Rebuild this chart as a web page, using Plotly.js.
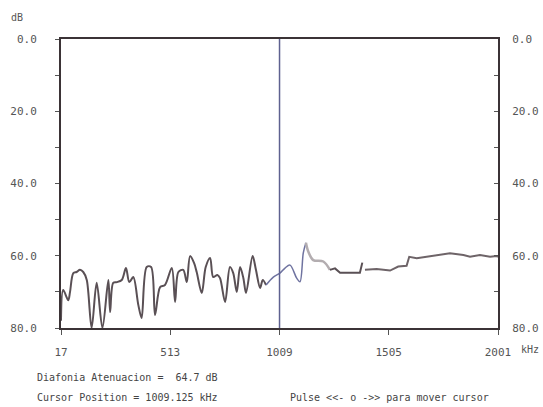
<!DOCTYPE html>
<html>
<head>
<meta charset="utf-8">
<script src="https://cdn.plot.ly/plotly-3.0.1.min.js"></script>
<style>html,body{margin:0;padding:0;background:#fff;}#chart{width:543px;height:407px;}</style>
</head>
<body>
<div id="chart"></div>
<script>
// Crosstalk attenuation (dB) vs frequency (kHz)
const freqA = [17, 27, 50, 58, 73, 88, 103, 118, 134, 156, 179, 205, 232, 240, 254, 270, 293, 312, 327, 345, 368, 383, 406, 426, 444, 467, 489, 520, 535, 550, 572, 588, 603, 621, 633, 656, 674, 694, 708, 727, 739, 762, 784, 799, 815, 830, 845, 857, 887, 902, 921, 933, 948];
const dbA   = [78, 69.5, 72.3, 70.0, 64.8, 64.5, 63.9, 64.5, 66.7, 80.0, 67.5, 80.0, 66.7, 75.6, 67.5, 67.3, 66.7, 63.4, 67.3, 65.9, 73.6, 77.2, 63.1, 63.1, 76.4, 68.7, 68.1, 63.4, 72.8, 64.5, 63.9, 67.3, 60.1, 62.0, 64.5, 70.3, 63.1, 60.6, 65.9, 65.3, 66.2, 72.8, 63.1, 64.8, 70.0, 63.1, 66.2, 70.3, 60.1, 63.9, 68.9, 66.7, 68.1];
const freqB = [948, 981, 1011, 1034, 1057, 1087, 1102, 1117, 1129];
const dbB   = [68.1, 65.9, 64.8, 63.4, 62.6, 66.2, 67.2, 59.2, 56.4];
const freqC = [1129, 1140, 1162, 1208, 1238];
const dbC   = [56.4, 58.9, 61.2, 61.6, 63.9];
const freqD = [1238, 1261, 1284, 1374, 1385];
const dbD   = [63.9, 63.5, 64.7, 64.7, 61.9];
const freqE = [1397, 1450, 1511, 1548, 1586, 1598, 1632, 1723, 1783, 1844, 1874, 1919, 1965, 1995, 2001];
const dbE   = [63.9, 63.7, 64.1, 63.0, 62.8, 60.3, 60.7, 59.8, 59.3, 59.8, 60.3, 59.8, 60.3, 60.1, 60.3];
const cursorFreq = [1009.125];
const attenuation = [64.7];
const xTicks = [17, 513, 1009, 1505, 2001];
const xTickText = ["17", "513", "1009", "1505", "2001"];
const yTicks = [0, 10, 20, 30, 40, 50, 60, 70, 80];
const yTickText = ["0.0", "", "20.0", "", "40.0", "", "60.0", "", "80.0"];

const dark = "#5a5055";
const mono = "DejaVu Sans Mono, Liberation Mono, monospace";
const sp = {shape: "spline", smoothing: 0.9};

const traces = [
  {x: freqA, y: dbA, mode: "lines", line: Object.assign({color: dark, width: 2}, sp), hoverinfo: "none"},
  {x: freqB, y: dbB, mode: "lines", line: Object.assign({color: "#6f73a0", width: 1.5}, sp), hoverinfo: "none"},
  {x: freqC, y: dbC, mode: "lines", line: Object.assign({color: "#b3adb0", width: 2.5}, sp), hoverinfo: "none"},
  {x: freqD, y: dbD, mode: "lines", line: {color: dark, width: 2}, hoverinfo: "none"},
  {x: freqE, y: dbE, mode: "lines", line: {color: "#6e6468", width: 2}, hoverinfo: "none"},
  {x: [cursorFreq[0], cursorFreq[0]], y: [0, 80], mode: "lines", line: {color: "#5e6190", width: 1.5}, hoverinfo: "none"},
  {x: [null], y: [null], yaxis: "y2", mode: "lines", showlegend: false, hoverinfo: "none"}
];

const layout = {
  width: 543, height: 407,
  margin: {l: 61, r: 45, t: 39, b: 79, pad: 0},
  paper_bgcolor: "#ffffff", plot_bgcolor: "#ffffff",
  showlegend: false,
  font: {family: mono, size: 11, color: "#555"},
  xaxis: {
    range: [17, 2001], tickvals: xTicks, ticktext: xTickText,
    showgrid: false, zeroline: false,
    showline: true, linecolor: "#3b3336", linewidth: 2, mirror: true,
    ticks: "outside", ticklen: 5, tickcolor: "#555", tickwidth: 1,
    ticklabelstandoff: 8,
    tickfont: {family: mono, size: 11, color: "#555"}
  },
  yaxis: {
    range: [80, 0], tickvals: yTicks, ticktext: yTickText,
    showgrid: false, zeroline: false,
    showline: true, linecolor: "#3b3336", linewidth: 2,
    ticks: "outside", ticklen: 4, tickcolor: "#555", tickwidth: 1,
    ticklabelstandoff: 16,
    tickfont: {family: mono, size: 11, color: "#555"}
  },
  yaxis2: {
    range: [80, 0], tickvals: yTicks, ticktext: yTickText,
    overlaying: "y", side: "right",
    showgrid: false, zeroline: false,
    showline: true, linecolor: "#3b3336", linewidth: 2,
    ticks: "inside", ticklen: 4, tickcolor: "#555", tickwidth: 1,
    ticklabelstandoff: 10,
    tickfont: {family: mono, size: 11, color: "#555"}
  },
  annotations: [
    {xref: "paper", yref: "paper", x: -0.1, y: 1.075, xanchor: "center", yanchor: "middle",
     text: "dB", showarrow: false, font: {family: mono, size: 10, color: "#555"}},
    {xref: "paper", yref: "paper", x: 1.048, y: -0.075, xanchor: "left", yanchor: "middle",
     text: "kHz", showarrow: false, font: {family: mono, size: 10, color: "#555"}},
    {xref: "paper", yref: "paper", x: -0.06, y: -0.17, xanchor: "left", yanchor: "middle",
     text: "Diafonia Atenuacion =  " + attenuation[0].toFixed(1) + " dB", showarrow: false,
     font: {family: mono, size: 10, color: "#444"}},
    {xref: "paper", yref: "paper", x: -0.06, y: -0.24, xanchor: "left", yanchor: "middle",
     text: "Cursor Position = " + cursorFreq[0].toFixed(3) + " kHz", showarrow: false,
     font: {family: mono, size: 10, color: "#444"}},
    {xref: "paper", yref: "paper", x: 0.52, y: -0.24, xanchor: "left", yanchor: "middle",
     text: "Pulse &lt;&lt;- o -&gt;&gt; para mover cursor", showarrow: false,
     font: {family: mono, size: 10, color: "#444"}}
  ]
};

Plotly.newPlot("chart", traces, layout, {staticPlot: true, displayModeBar: false});
</script>
</body>
</html>
